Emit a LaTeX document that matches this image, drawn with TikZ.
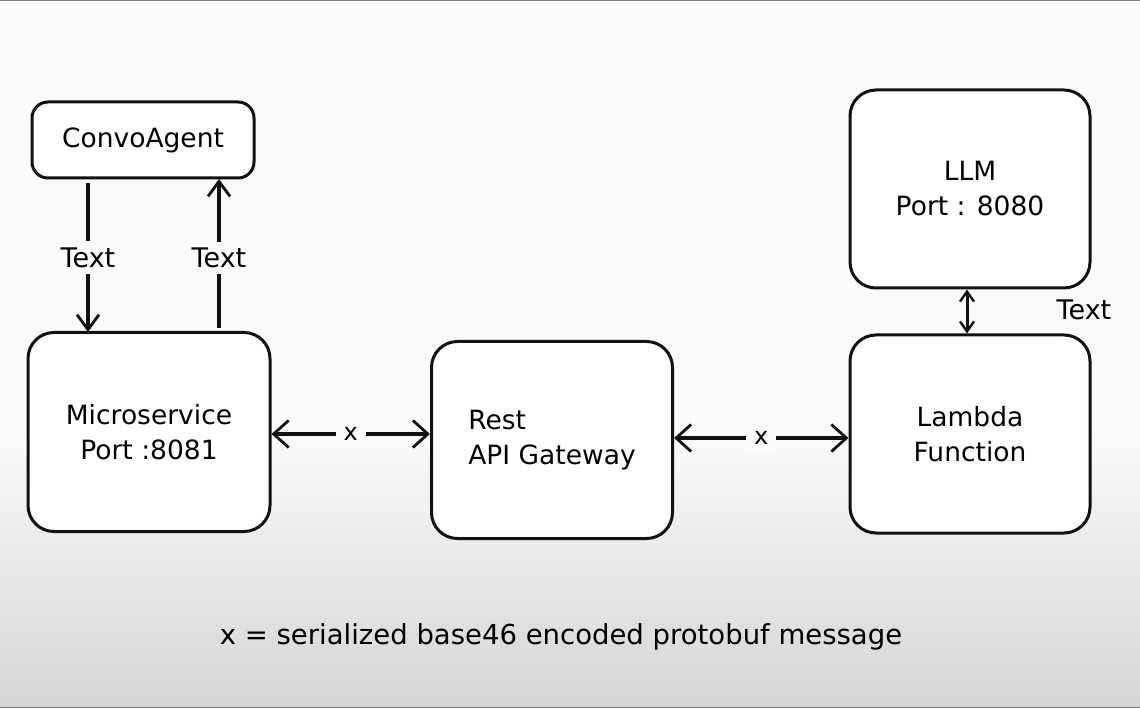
\documentclass[tikz,border=0pt]{standalone}
\usepackage{fontspec}
\setmainfont{DejaVu Sans}
\usetikzlibrary{arrows.meta}

\definecolor{paper}{HTML}{FAFAF8}
\definecolor{paperlow}{HTML}{D5D5D4}
\definecolor{ink}{HTML}{111111}

\tikzset{
box/.style={draw=ink,line width=3pt,rounded corners=26pt,fill=white,
  font=\fontsize{26.5}{35}\selectfont,inner sep=0pt},
link/.style={draw=ink,line width=3.6pt,
  arrows={Straight Barb[length=15pt,width=27pt,line width=2.8pt]-Straight Barb[length=15pt,width=27pt,line width=2.8pt]}},
flow/.style={draw=ink,line width=3.4pt,
  -{Straight Barb[length=15pt,width=22pt,line width=2.8pt]}},
tag/.style={font=\fontsize{27}{30}\selectfont,fill=paper,inner sep=6pt}
}

\begin{document}
\begin{tikzpicture}[x=1pt,y=-1pt]

% background
\useasboundingbox (0,0) rectangle (1140,708);
\fill[paper] (0,0) rectangle (1140,430);
\fill[top color=paper,bottom color=paperlow] (0,430) rectangle (1140,708);
\draw[gray,line width=1.5pt] (0,0.7) -- (1140,0.7);
\draw[gray,line width=1.5pt] (0,707.3) -- (1140,707.3);

% boxes
\node[box,rounded corners=16pt,minimum width=222pt,minimum height=76pt] (agent) at (143,140) {ConvoAgent};
\node[box,minimum width=242pt,minimum height=199pt,align=center] (micro) at (149,432) {Microservice\\Port :8081};
\node[box,minimum width=241pt,minimum height=197pt,align=left] (gateway) at (552,440) {Rest\\API Gateway};
\node[box,minimum width=240pt,minimum height=198pt,align=center] (llm) at (970,189) {LLM\\Port : 8080};
\node[box,minimum width=240pt,minimum height=198pt,align=center] (lambda) at (970,434) {Lambda\\Function};

% text between agent and microservice
\coordinate (downtop) at (88,183);
\coordinate (downbot) at (88,332);
\coordinate (uptop) at (219,179);
\coordinate (upbot) at (219,328);
\draw[flow] (downtop) -- node[tag] (textdown) {Text} (downbot);
\draw[flow] (upbot) -- node[tag,pos=0.47] (textup) {Text} (uptop);

% serialized links
\draw[link] (micro.east |- 0,434) -- node[tag,font=\fontsize{24}{28}\selectfont,inner sep=8pt] (xleft) {x} (gateway.west |- 0,434);
\draw[link] (gateway.east |- 0,438) -- node[tag,font=\fontsize{24}{28}\selectfont,inner sep=8pt] (xright) {x} (lambda.west |- 0,438);

% llm to lambda
\draw[draw=ink,line width=3pt,
  arrows={Straight Barb[length=10pt,width=14pt,line width=2.4pt]-Straight Barb[length=10pt,width=14pt,line width=2.4pt]}]
  (llm.south -| 967,0) -- (lambda.north -| 967,0);
\node[font=\fontsize{27}{30}\selectfont] (textllm) at (1084,310) {Text};

% legend
\node[font=\fontsize{27.5}{30}\selectfont] (legend) at (561,637) {x = serialized base46 encoded protobuf message};

\end{tikzpicture}
\end{document}
